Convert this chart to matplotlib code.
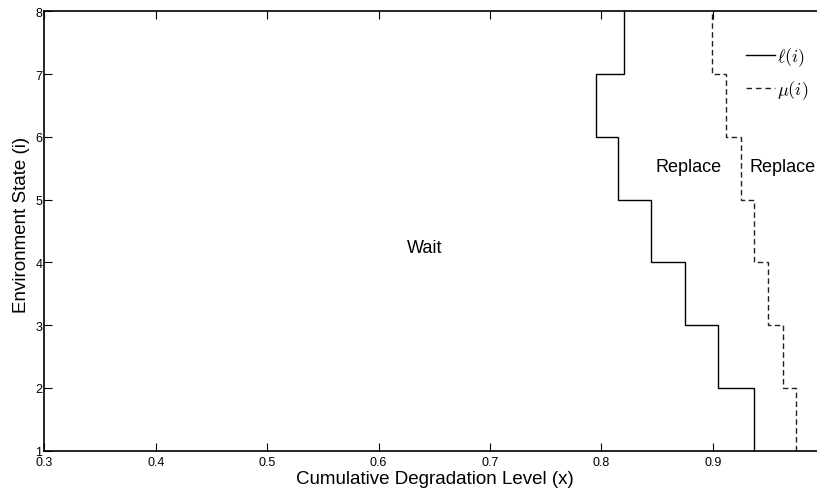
import matplotlib
matplotlib.use("Agg")
import matplotlib.pyplot as plt
from matplotlib.lines import Line2D

plt.rcParams['font.family'] = ['Liberation Sans', 'DejaVu Sans']
plt.rcParams['mathtext.fontset'] = 'cm'

# Data
states = [1, 2, 3, 4, 5, 6, 7, 8]            # state boundaries (edges)
ell = [0.937, 0.905, 0.875, 0.845, 0.815, 0.795, 0.820]   # l(i) for i=1..7 intervals
mu = [0.975, 0.963, 0.950, 0.937, 0.925, 0.912, 0.899]    # mu(i)
xticks = [0.3, 0.4, 0.5, 0.6, 0.7, 0.8, 0.9]
yticks = [1, 2, 3, 4, 5, 6, 7, 8]
region_labels = ["Wait", "Replace", "Replace"]
region_x = [0.641, 0.878, 0.963]
region_y = [4.23, 5.53, 5.53]

fig = plt.figure(figsize=(8.17, 4.89), dpi=100)
ax = fig.add_axes([0.0542, 0.0763, 0.9458, 0.8985])

ax.stairs(ell, edges=states, orientation='horizontal', baseline=None,
          color='black', linewidth=1.0)
ax.stairs(mu, edges=states, orientation='horizontal', baseline=None,
          color='#222222', linewidth=1.0, linestyle=(0, (4, 2.4)))

for t, x, y in zip(region_labels, region_x, region_y):
    ax.text(x, y, t, ha='center', va='center', fontsize=13)

ax.set_xlim(0.3, 0.9936)
ax.set_ylim(1, 8)
ax.set_xticks(xticks)
ax.set_yticks(yticks)
ax.set_xticklabels([f"{v:.1f}" for v in xticks])
ax.tick_params(direction='in', length=5.5, width=0.8, top=True, right=False,
               labelsize=9)
ax.tick_params(axis='x', pad=3.5)
ax.tick_params(axis='y', pad=1.5)
for s in ax.spines.values():
    s.set_linewidth(1.2)
ax.spines['right'].set_visible(False)

ax.set_xlabel("Cumulative Degradation Level (x)", fontsize=13.5, labelpad=1.5)
ax.xaxis.label.set_x(0.5056)
ax.set_ylabel("Environment State (i)", fontsize=13.5, labelpad=4)
ax.yaxis.label.set_y(0.516)

handles = [Line2D([0], [0], color='black', lw=1.0),
           Line2D([0], [0], color='#222222', lw=1.0, linestyle=(0, (4, 2.8)))]
ax.legend(handles, [r"$\ell(i)$", r"$\mu(i)$"], loc='upper left',
          bbox_to_anchor=(746 / 817, 1 - 46 / 489), bbox_transform=fig.transFigure,
          frameon=False, fontsize=13, handlelength=1.6, handletextpad=0.1,
          labelspacing=0.6, borderpad=0, borderaxespad=0)

fig.savefig("out.png", dpi=100)
